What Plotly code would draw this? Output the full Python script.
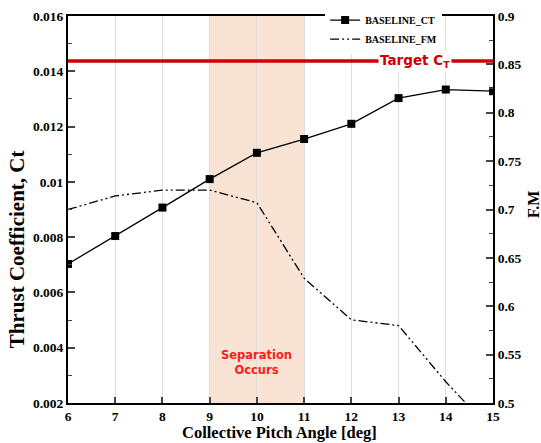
import plotly.graph_objects as go

pitch = [6, 7, 8, 9, 10, 11, 12, 13, 14, 15]
ct_baseline = [0.00703, 0.00804, 0.00907, 0.0101, 0.01105, 0.01155, 0.0121, 0.01303, 0.01334, 0.01328]
fm_baseline = [0.700, 0.714, 0.720, 0.720, 0.707, 0.629, 0.586, 0.580, 0.522, 0.470]
target_ct = 0.01437
sep_range = [9, 11]

ct_ticks = [0.002, 0.004, 0.006, 0.008, 0.010, 0.012, 0.014, 0.016]
ct_ticktext = ["0.002", "0.004", "0.006", "0.008", "0.01", "0.012", "0.014", "0.016"]
fm_ticks = [0.5, 0.55, 0.6, 0.65, 0.7, 0.75, 0.8, 0.85, 0.9]
fm_ticktext = ["0.5", "0.55", "0.6", "0.65", "0.7", "0.75", "0.8", "0.85", "0.9"]
x_ticks = list(range(6, 16))

serif = "Liberation Serif"
tickfont = dict(family=serif, size=13.5, color="black", weight="bold")
titlefont = dict(family=serif, color="black", weight="bold")

fig = go.Figure()

fig.add_trace(go.Scatter(
    x=pitch, y=ct_baseline, name="BASELINE_CT", mode="lines+markers",
    line=dict(color="black", width=1.3),
    marker=dict(symbol="square", size=8, color="black"),
    yaxis="y"))

fig.add_trace(go.Scatter(
    x=pitch, y=fm_baseline, name="BASELINE_FM", mode="lines",
    line=dict(color="black", width=1.3, dash="9px,3px,2px,3px,2px,3px"),
    yaxis="y2"))

fig.add_trace(go.Scatter(
    x=[6, 15], y=[target_ct, target_ct], mode="lines", showlegend=False,
    line=dict(color="#cc0000", width=3.5), yaxis="y", hoverinfo="skip"))

fig.add_shape(type="rect", xref="x", yref="paper", x0=sep_range[0], x1=sep_range[1],
              y0=0, y1=1, fillcolor="#f9e3d4", line=dict(width=0), layer="below")

fig.add_annotation(x=13.35, y=target_ct, xref="x", yref="y",
                   text="<b>Target C<sub>T</sub></b>", showarrow=False,
                   font=dict(family="DejaVu Sans", size=13.5, color="#cc0000"),
                   bgcolor="white", borderpad=1)

fig.add_annotation(x=10, y=0.00345, xref="x", yref="y",
                   text="<b>Separation<br>Occurs</b>", showarrow=False,
                   font=dict(family="DejaVu Sans", size=11.5, color="#ff1a1a"))

# axis titles
fig.add_annotation(x=-0.118, y=0.397, xref="paper", yref="paper", textangle=-90,
                   text="Thrust Coefficient, Ct", showarrow=False,
                   xanchor="center", yanchor="middle",
                   font=dict(size=21, **titlefont))
fig.add_annotation(x=0.497, y=-0.0775, xref="paper", yref="paper",
                   text="Collective Pitch Angle [deg]", showarrow=False,
                   xanchor="center", yanchor="middle",
                   font=dict(size=16.5, **titlefont))
fig.add_annotation(x=1.094, y=0.514, xref="paper", yref="paper", textangle=-90,
                   text="F.M", showarrow=False,
                   xanchor="center", yanchor="middle",
                   font=dict(size=16, **titlefont))

fig.update_layout(
    width=541, height=443,
    margin=dict(l=68, r=48, t=16, b=40, autoexpand=False),
    plot_bgcolor="white", paper_bgcolor="white",
    showlegend=True,
    legend=dict(x=0.605, y=1.027, xanchor="left", yanchor="top",
                bgcolor="white", font=dict(family=serif, size=10, color="black", weight="bold"),
                tracegroupgap=0, itemwidth=30, borderwidth=0),
    xaxis=dict(range=[6, 15], tickvals=x_ticks, ticks="inside", ticklen=6, tickwidth=1.5,
               showline=True, linecolor="black", linewidth=2, mirror=True,
               showgrid=True, gridcolor="#dddddd", gridwidth=1, zeroline=False,
               tickfont=tickfont, automargin=False),
    yaxis=dict(range=[0.002, 0.016], tickvals=ct_ticks, ticktext=ct_ticktext,
               ticks="inside", ticklen=7, tickwidth=1.5,
               minor=dict(ticks="inside", dtick=0.001, tick0=0.002, ticklen=4, tickwidth=1, showgrid=False),
               showline=True, linecolor="black", linewidth=2, showgrid=False, zeroline=False,
               tickfont=tickfont, automargin=False),
    yaxis2=dict(range=[0.5, 0.9], tickvals=fm_ticks, ticktext=fm_ticktext,
                overlaying="y", side="right",
                ticks="inside", ticklen=7, tickwidth=1.5,
                minor=dict(ticks="inside", dtick=0.025, tick0=0.5, ticklen=4, tickwidth=1, showgrid=False),
                showline=True, linecolor="black", linewidth=2, showgrid=False, zeroline=False,
                tickfont=tickfont, automargin=False),
)

fig.write_html("out.html", config={"displayModeBar": False},
               post_script="document.body.style.margin='0';")
